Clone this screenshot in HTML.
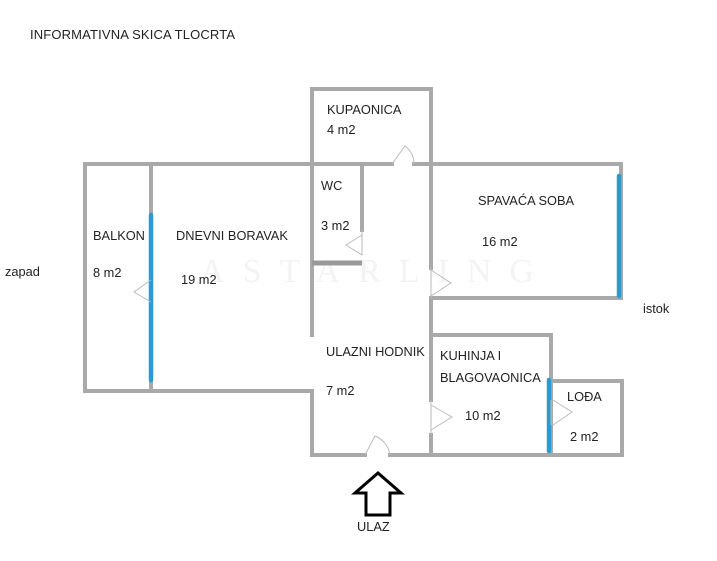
<!DOCTYPE html>
<html><head><style>
body{margin:0;background:#fff;width:717px;height:561px;overflow:hidden}
svg{display:block}
text{font-family:"Liberation Sans",Arial,sans-serif;font-size:12.8px;fill:#222}
</style></head><body>
<svg width="717" height="561" viewBox="0 0 717 561">
<text x="30" y="39" style="font-size:13px" textLength="205">INFORMATIVNA SKICA TLOCRTA</text>
<text x="5" y="276">zapad</text>
<text x="643" y="313">istok</text>
<text x="357" y="531">ULAZ</text>
<text x="200" y="282" style="font-family:'Liberation Serif',serif;font-size:34px;fill:#f3f3f3;letter-spacing:18px">ASTARLING</text>
<g stroke="#a9a9a9" stroke-width="4" fill="none" stroke-linecap="square">
<path d="M312 164 V89 H431 V164"/>
<path d="M85 164 H392 M414 164 H621"/>
<path d="M85 164 V391 H312 V455 H365 M390 455 H622 V381 H551"/>
<path d="M151 164 V391"/>
<path d="M312 164 V335"/>
<path d="M362 164 V230"/>
<path d="M431 164 V268 M431 298 V400 M431 435 V455"/>
<path d="M621 164 V298 H431"/>
<path d="M431 335 H551 V455"/>
</g>
<path d="M312 263 H362" stroke="#999" stroke-width="5"/>
<g stroke="#2a9bd0" stroke-width="4.5" stroke-linecap="round">
<path d="M151 215 V380"/>
<path d="M619 176 V296"/>
<path d="M549 380 V451"/>
</g>
<g stroke="#bbb" stroke-width="1" fill="none">
<path d="M392 164 L405 146 A22 22 0 0 1 414 164"/>
<path d="M365 455 L375 436 A24 24 0 0 1 390 455"/>
<path d="M362 230 V255 M362 235 L346 245 L362 255"/>
<path d="M431 268 V298 M431 270 L451 283 L431 296"/>
<path d="M431 400 V435 M431 405 L452 417 L431 430"/>
<path d="M551 400 V425 M553 400 L572 412 L553 425"/>
<path d="M151 280 L134 292 L151 302"/>
</g>
<path d="M378 473 L401 493 H390 V515 H366 V493 H355 Z" fill="none" stroke="#000" stroke-width="3" stroke-linejoin="miter"/>
<g>
<text x="327" y="114">KUPAONICA</text><text x="327" y="134">4 m2</text>
<text x="321" y="190">WC</text><text x="321" y="230">3 m2</text>
<text x="93" y="240">BALKON</text><text x="93" y="277">8 m2</text>
<text x="176" y="240">DNEVNI BORAVAK</text><text x="181" y="284">19 m2</text>
<text x="478" y="205">SPAVAĆA SOBA</text><text x="482" y="246">16 m2</text>
<text x="326" y="356">ULAZNI HODNIK</text><text x="326" y="395">7 m2</text>
<text x="440" y="360">KUHINJA I</text><text x="440" y="382">BLAGOVAONICA</text><text x="465" y="420">10 m2</text>
<text x="567" y="401">LOĐA</text><text x="570" y="441">2 m2</text>
</g>
</svg>
</body></html>
